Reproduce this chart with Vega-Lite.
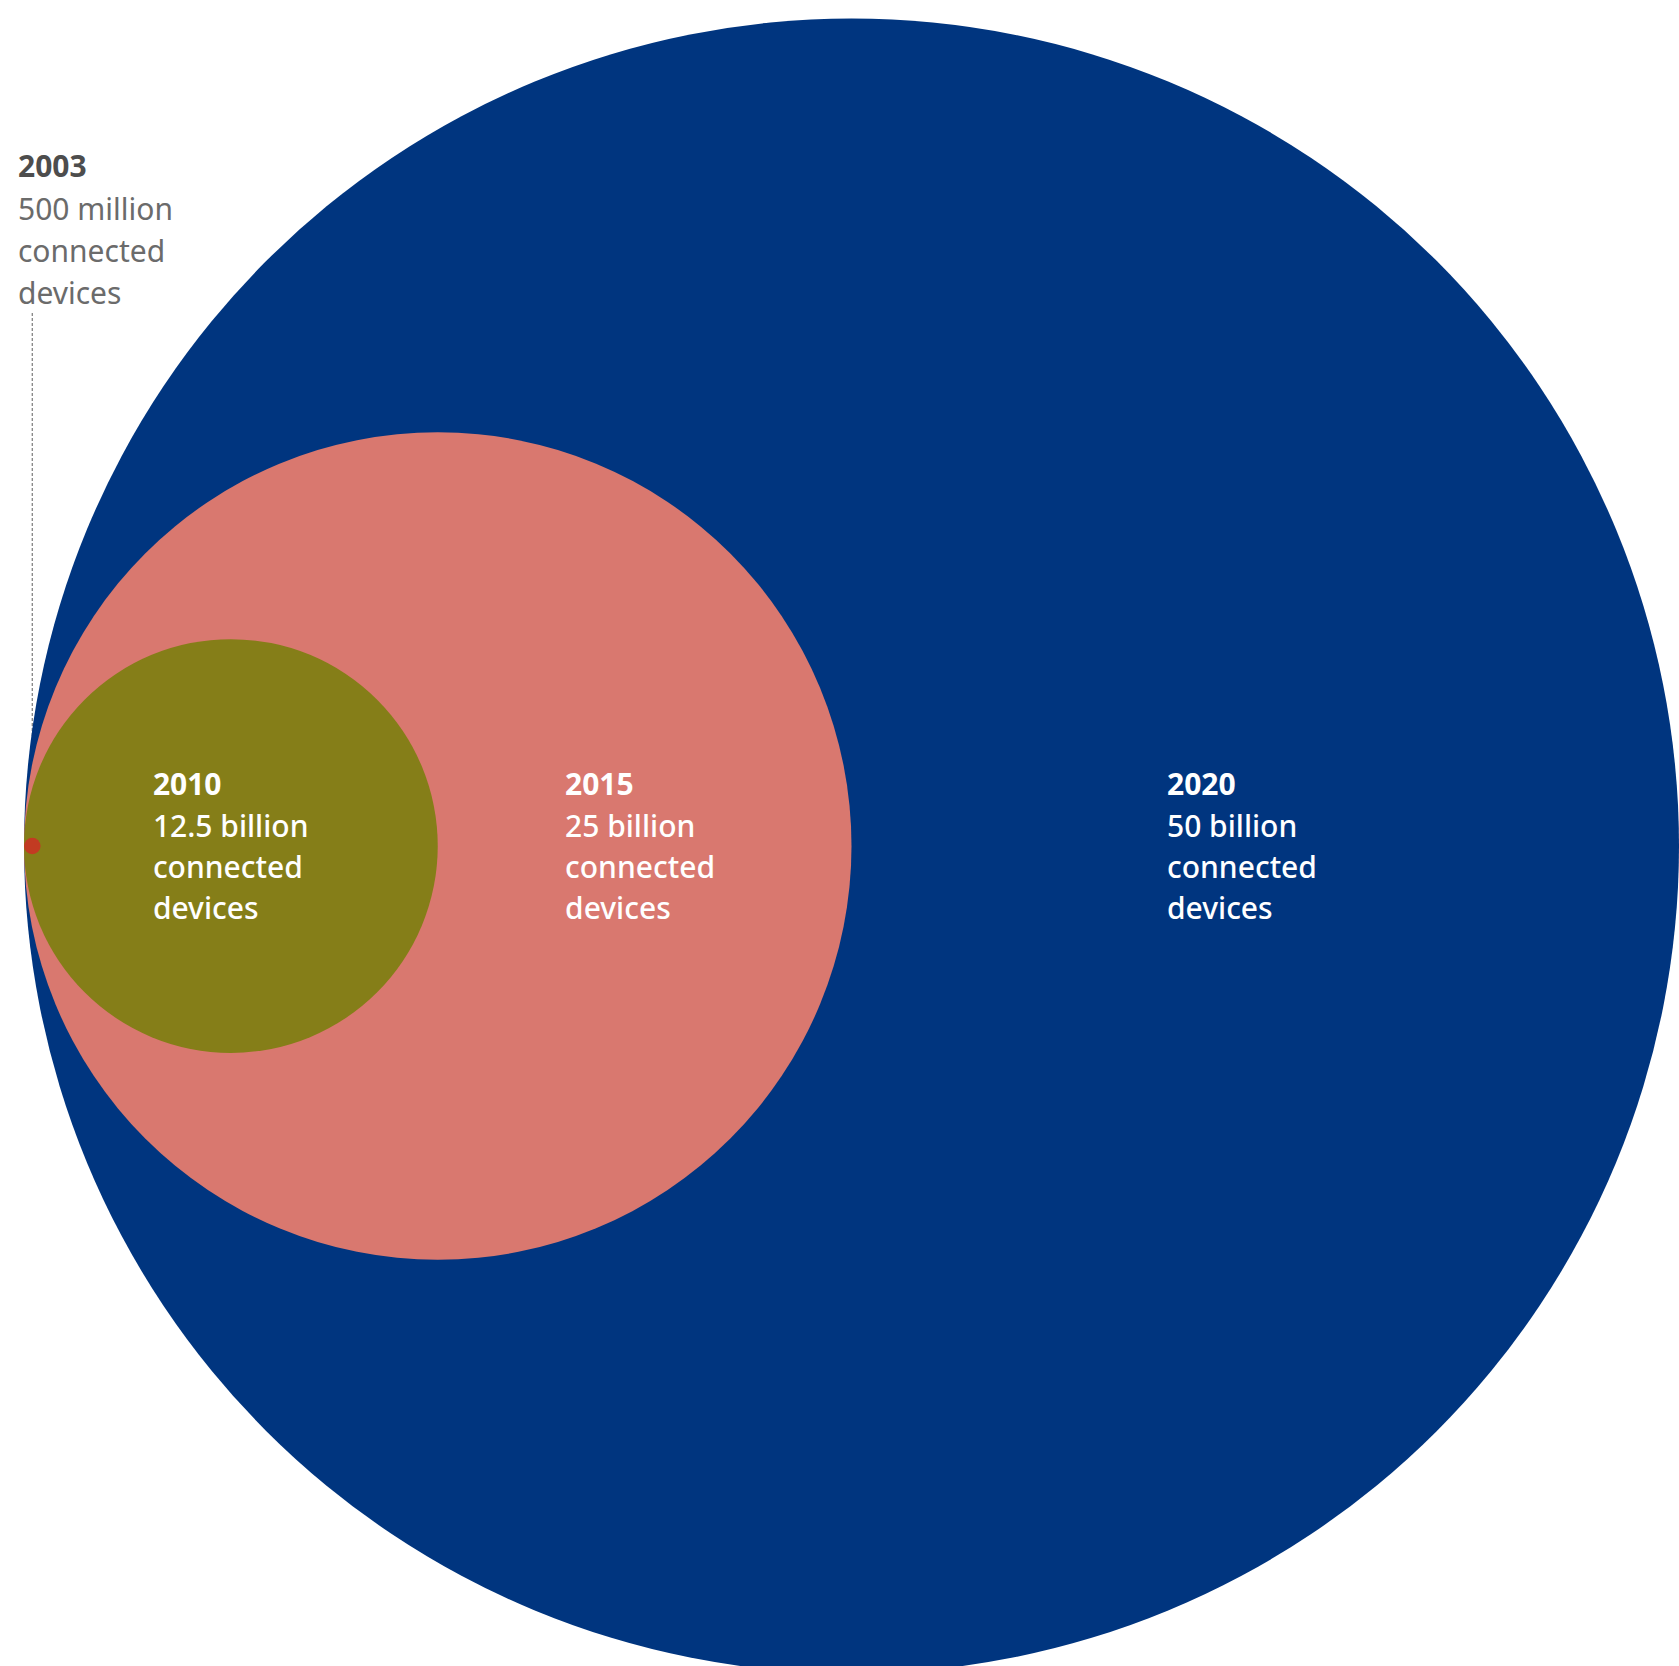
{
  "$schema": "https://vega.github.io/schema/vega-lite/v6.json",
  "width": 1679,
  "height": 1666,
  "padding": 0,
  "autosize": {"type": "none"},
  "background": "white",
  "config": {"view": {"stroke": null}, "text": {"font": "Noto Sans"}},
  "data": {
    "values": [
      {"year": "2020", "devices": 50, "label": ["50 billion", "connected", "devices"]},
      {"year": "2015", "devices": 25, "label": ["25 billion", "connected", "devices"]},
      {"year": "2010", "devices": 12.5, "label": ["12.5 billion", "connected", "devices"]},
      {"year": "2003", "devices": 0.5, "label": ["500 million", "connected", "devices"]}
    ]
  },
  "encoding": {
    "x": {"field": "devices", "type": "quantitative", "scale": {"domain": [0, 50], "range": [24, 851.5], "zero": false, "nice": false}, "axis": null},
    "y": {"datum": 0, "type": "quantitative", "scale": {"domain": [-50, 50], "range": [1673.5, 18.5], "nice": false, "zero": false}, "axis": null}
  },
  "layer": [
    {
      "transform": [{"filter": "datum.year == '2003'"}],
      "mark": {"type": "rule", "stroke": "#7a7a7a", "strokeWidth": 1.2, "strokeDash": [3, 2]},
      "encoding": {"y2": {"datum": 32.2}}
    },
    {
      "mark": {"type": "point", "shape": "circle", "filled": true, "opacity": 1, "strokeWidth": 0},
      "encoding": {
        "size": {"field": "devices", "type": "quantitative", "scale": {"type": "pow", "exponent": 2, "domain": [0, 50], "range": [0, 2739025]}, "legend": null},
        "color": {"field": "year", "type": "nominal", "scale": {"domain": ["2003", "2010", "2015", "2020"], "range": ["#C23B22", "#857E18", "#D9786F", "#00357F"]}, "legend": null},
        "order": {"field": "devices", "sort": "descending"}
      }
    },
    {
      "transform": [{"filter": "datum.year == '2020'"}],
      "layer": [
        {"mark": {"type": "text", "align": "left", "baseline": "alphabetic", "fontSize": 30, "fontWeight": "bold", "color": "white", "dx": 315.5, "dy": -51}, "encoding": {"text": {"field": "year"}}},
        {"mark": {"type": "text", "align": "left", "baseline": "alphabetic", "fontSize": 30, "fontWeight": 500, "color": "white", "lineHeight": 41, "dx": 315.5, "dy": -9}, "encoding": {"text": {"field": "label"}}}
      ]
    },
    {
      "transform": [{"filter": "datum.year == '2015'"}],
      "layer": [
        {"mark": {"type": "text", "align": "left", "baseline": "alphabetic", "fontSize": 30, "fontWeight": "bold", "color": "white", "dx": 127.3, "dy": -51}, "encoding": {"text": {"field": "year"}}},
        {"mark": {"type": "text", "align": "left", "baseline": "alphabetic", "fontSize": 30, "fontWeight": 500, "color": "white", "lineHeight": 41, "dx": 127.3, "dy": -9}, "encoding": {"text": {"field": "label"}}}
      ]
    },
    {
      "transform": [{"filter": "datum.year == '2010'"}],
      "layer": [
        {"mark": {"type": "text", "align": "left", "baseline": "alphabetic", "fontSize": 30, "fontWeight": "bold", "color": "white", "dx": -78, "dy": -51}, "encoding": {"text": {"field": "year"}}},
        {"mark": {"type": "text", "align": "left", "baseline": "alphabetic", "fontSize": 30, "fontWeight": 500, "color": "white", "lineHeight": 41, "dx": -78, "dy": -9}, "encoding": {"text": {"field": "label"}}}
      ]
    },
    {
      "transform": [{"filter": "datum.year == '2003'"}],
      "layer": [
        {"mark": {"type": "text", "align": "left", "baseline": "alphabetic", "fontSize": 30, "fontWeight": "bold", "color": "#4d4d4d", "dx": -14.3, "dy": -669}, "encoding": {"text": {"field": "year"}}},
        {"mark": {"type": "text", "align": "left", "baseline": "alphabetic", "fontSize": 30, "color": "#6b6b6b", "lineHeight": 42, "dx": -14.3, "dy": -626}, "encoding": {"text": {"field": "label"}}}
      ]
    }
  ]
}
